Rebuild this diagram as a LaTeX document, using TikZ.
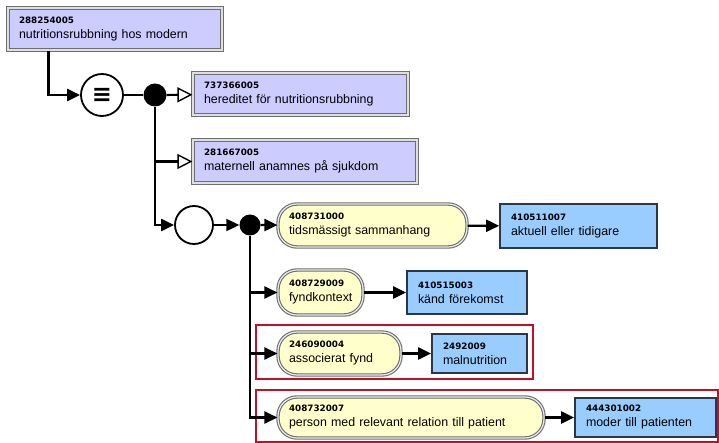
\documentclass[tikz,border=0pt]{standalone}
\usepackage{fontspec}
\setmainfont{Liberation Sans}
\newfontfamily\codefont{DejaVu Sans}
\newfontfamily\symfont{DejaVu Sans}
\usetikzlibrary{arrows.meta,positioning}
\definecolor{purp}{RGB}{204,204,255}
\definecolor{yel}{RGB}{255,255,204}
\definecolor{blu}{RGB}{153,204,255}
\definecolor{bord}{RGB}{110,110,110}
\definecolor{bluebord}{RGB}{45,55,68}
\definecolor{redbox}{RGB}{192,16,42}
\newcommand\cnum[1]{{\codefont\bfseries\fontsize{8.8}{10}\selectfont #1}}
\tikzset{
  concept/.style 2 args={minimum width=#1, minimum height=#2, text width=#1-22pt,
    inner xsep=11pt, inner ysep=0pt, align=left, font=\fontsize{12.4}{15}\selectfont},
  purpbox/.style={rectangle, fill=purp, draw=bord, line width=1.2pt, double=gray!25!white, double distance=1.2pt},
  yelbox/.style={rectangle, rounded corners=19pt, fill=yel, draw=bord, line width=1.1pt, double=gray!15!white, double distance=1.2pt},
  blubox/.style={rectangle, fill=blu, draw=bluebord, line width=1.8pt},
  conn/.style={line width=2.2pt, -{Triangle[length=13pt,width=12pt]}},
  isa/.style={line width=2.2pt, -{Triangle[open,length=15pt,width=15pt,line width=1.4pt]}},
  plain/.style={line width=2.2pt},
  blackdot/.style={circle, fill=black, inner sep=0pt},
  opencirc/.style={circle, draw=black, fill=white, line width=1.8pt, inner sep=0pt},
  redframe/.style={draw=redbox, line width=2.2pt}
}
\begin{document}
\begin{tikzpicture}[x=1pt,y=-1pt]
\useasboundingbox (0,0) rectangle (719,443);
% red frames
\draw[redframe] (256,325) rectangle (533,379);
\draw[redframe] (256,390) rectangle (718,442);
% nodes
\node[purpbox, concept={214pt}{42pt}] (top) at (115,29) {\cnum{288254005}\\nutritionsrubbning hos modern};
\node[opencirc, minimum size=42pt] (eq) at (102,95) {\symfont\bfseries\fontsize{24}{24}\selectfont ≡};
\node[blackdot, minimum size=23pt] (d1) at (155,95) {};
\node[purpbox, concept={215pt}{42pt}] (b1) at (300.5,94) {\cnum{737366005}\\hereditet för nutritionsrubbning};
\node[purpbox, concept={224pt}{43pt}] (b2) at (305,161.5) {\cnum{281667005}\\maternell anamnes på sjukdom};
\node[opencirc, minimum size=38pt] (c2) at (194,225) {};
\node[blackdot, minimum size=21pt] (d2) at (250,225) {};
\node[yelbox, concept={189pt}{43pt}] (y1) at (372.5,225.5) {\cnum{408731000}\\tidsmässigt sammanhang};
\node[blubox, concept={157pt}{44pt}] (l1) at (578.5,226) {\cnum{410511007}\\aktuell eller tidigare};
\node[yelbox, concept={85pt}{45pt}] (y2) at (320.5,292.5) {\cnum{408729009}\\fyndkontext};
\node[blubox, concept={120pt}{43pt}] (l2) at (467,292.5) {\cnum{410515003}\\känd förekomst};
\node[yelbox, concept={123pt}{43pt}] (y3) at (339.5,353.5) {\cnum{246090004}\\associerat fynd};
\node[blubox, concept={95pt}{39pt}] (l3) at (479.5,353.5) {\cnum{2492009}\\malnutrition};
\node[yelbox, concept={266pt}{41pt}] (y4) at (411,417.5) {\cnum{408732007}\\person med relevant relation till patient};
\node[blubox, concept={141pt}{39pt}] (l4) at (645.5,417.5) {\cnum{444301002}\\moder till patienten};
% connectors
\draw[conn] ([xshift=41pt]top.south west) |- (eq);
\draw[plain] (eq) -- (d1);
\draw[isa] (d1) -- (b1);
\draw[isa] (d1) |- (b2);
\draw[conn] (d1) |- (c2);
\draw[conn] (c2) -- (d2);
\draw[conn] (d2) -- (y1);
\draw[conn] (y1) -- (l1);
\draw[conn] (d2) |- (y2);
\draw[conn] (y2) -- (l2);
\draw[conn] (d2) |- (y3);
\draw[conn] (y3) -- (l3);
\draw[conn] (d2) |- (y4);
\draw[conn] (y4) -- (l4);
\end{tikzpicture}
\end{document}
